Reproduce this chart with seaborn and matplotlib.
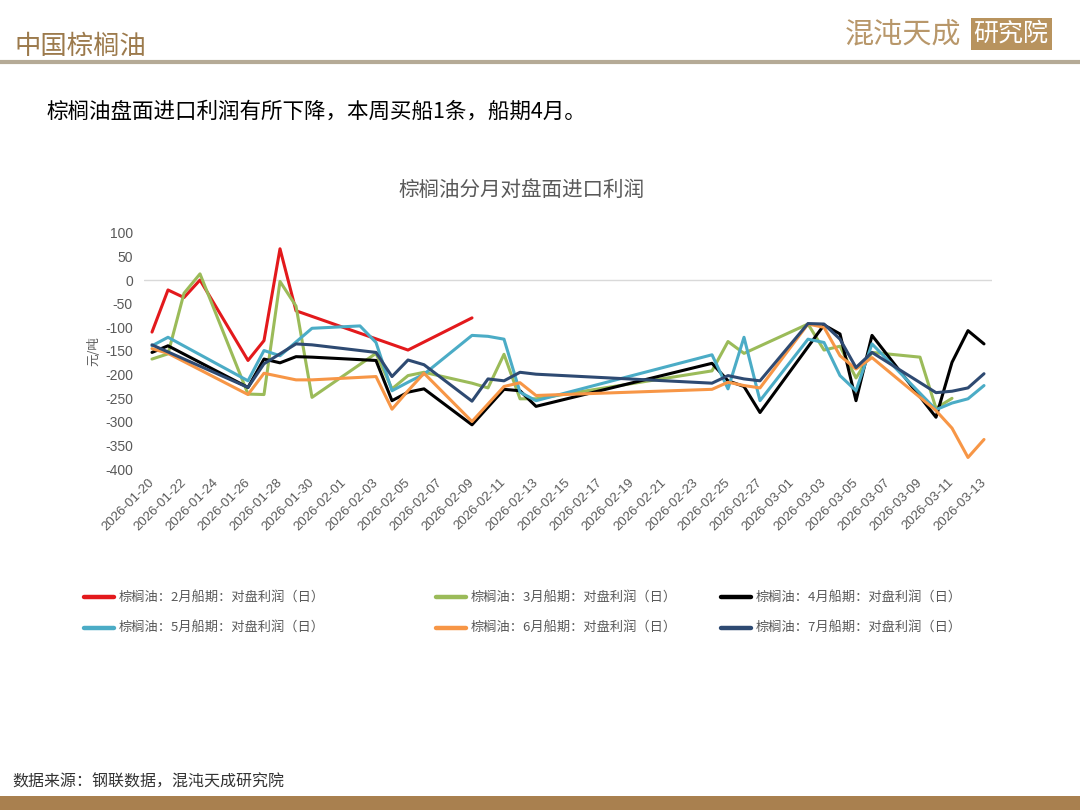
import pandas as pd
import seaborn as sns
import matplotlib.pyplot as plt
from matplotlib.lines import Line2D
from matplotlib.patches import Rectangle

# series labels and colours (2月 .. 7月 ship months)
series_names = [
    "棕榈油：2月船期：对盘利润（日）",
    "棕榈油：3月船期：对盘利润（日）",
    "棕榈油：4月船期：对盘利润（日）",
    "棕榈油：5月船期：对盘利润（日）",
    "棕榈油：6月船期：对盘利润（日）",
    "棕榈油：7月船期：对盘利润（日）",
]
series_colors = ["#E3191C", "#9BBB59", "#000000", "#4BACC6", "#F79646", "#2E4A72"]

feb_dates = ["01-20", "01-21", "01-22", "01-23", "01-26", "01-27", "01-28", "01-29", "02-05", "02-09"]
feb_values = [-110, -21, -37, 0, -170, -128, 66, -65, -148, -80]

mar_dates = ["01-20", "01-21", "01-22", "01-23", "01-26", "01-27", "01-28", "01-29", "01-30",
             "02-03", "02-04", "02-05", "02-06", "02-09", "02-10", "02-11", "02-12", "02-13",
             "02-24", "02-25", "02-26", "03-02", "03-03", "03-04", "03-05", "03-06", "03-09",
             "03-10", "03-11"]
mar_values = [-167, -156, -28, 13, -241, -242, -3, -55, -248,
              -155, -230, -202, -195, -218, -228, -157, -251, -251,
              -192, -130, -155, -93, -148, -140, -207, -153, -163,
              -271, -250]

apr_dates = ["01-20", "01-21", "01-26", "01-27", "01-28", "01-29", "01-30", "02-03", "02-04",
             "02-05", "02-06", "02-09", "02-11", "02-12", "02-13", "02-24", "02-25", "02-26",
             "02-27", "03-03", "03-04", "03-05", "03-06", "03-10", "03-11", "03-12", "03-13"]
apr_values = [-153, -139, -227, -167, -175, -162, -163, -170, -255,
              -237, -230, -306, -231, -234, -267, -176, -213, -225,
              -280, -95, -114, -255, -117, -290, -174, -107, -135]

may_dates = ["01-20", "01-21", "01-26", "01-27", "01-28", "01-30", "02-02", "02-03", "02-04",
             "02-05", "02-06", "02-09", "02-10", "02-11", "02-12", "02-13", "02-24", "02-25",
             "02-26", "02-27", "03-02", "03-03", "03-04", "03-05", "03-06", "03-10", "03-11",
             "03-12", "03-13"]
may_values = [-139, -121, -213, -149, -160, -102, -97, -132, -234,
              -216, -199, -117, -119, -125, -237, -255, -158, -230,
              -121, -255, -125, -132, -202, -234, -135, -274, -260,
              -251, -223]

jun_dates = ["01-20", "01-21", "01-26", "01-27", "01-29", "01-30", "02-03", "02-04", "02-05",
             "02-06", "02-09", "02-11", "02-12", "02-13", "02-24", "02-25", "02-26", "02-27",
             "03-02", "03-03", "03-04", "03-05", "03-06", "03-10", "03-11", "03-12", "03-13"]
jun_values = [-145, -155, -242, -197, -211, -211, -204, -273, -234,
              -197, -299, -225, -217, -244, -231, -216, -223, -228,
              -93, -100, -160, -188, -164, -276, -313, -375, -337]

jul_dates = ["01-20", "01-26", "01-27", "01-28", "01-29", "01-30", "02-03", "02-04", "02-05",
             "02-06", "02-09", "02-10", "02-11", "02-12", "02-13", "02-24", "02-25", "02-26",
             "02-27", "03-02", "03-03", "03-04", "03-05", "03-06", "03-10", "03-11", "03-12",
             "03-13"]
jul_values = [-137, -227, -177, -156, -135, -137, -153, -204, -169,
              -179, -256, -209, -213, -195, -199, -218, -202, -209,
              -213, -92, -93, -125, -185, -153, -238, -235, -228,
              -198]

y_ticks = list(range(-400, 101, 50))

all_dates = [feb_dates, mar_dates, apr_dates, may_dates, jun_dates, jul_dates]
all_values = [feb_values, mar_values, apr_values, may_values, jun_values, jul_values]

rows = []
for name, dates, values in zip(series_names, all_dates, all_values):
    for d, v in zip(dates, values):
        rows.append({"date": pd.Timestamp("2026-" + d), "value": v, "series": name})
df = pd.DataFrame(rows)

sns.set_theme(style="white")
plt.rcParams["font.family"] = ["Noto Sans CJK SC", "DejaVu Sans"]

W, H = 1080, 810
fig = plt.figure(figsize=(10.8, 8.1), dpi=100)


def fx(px):
    return px / W


def fy(py):
    return 1 - py / H


ax = fig.add_axes([fx(144), fy(469.3), fx(848), 236.6 / H])

palette = dict(zip(series_names, series_colors))
sns.lineplot(data=df, x="date", y="value", hue="series", hue_order=series_names,
             palette=palette, linewidth=2.2, legend=False, ax=ax)

ax.axhline(0, color="#D9D9D9", linewidth=1.0, zorder=0)
ax.set_xlim(pd.Timestamp("2026-01-19 12:00"), pd.Timestamp("2026-03-13 12:00"))
ax.set_ylim(-400, 100)
ax.set_yticks(y_ticks)
ax.set_yticklabels([str(v) for v in y_ticks], family="Liberation Sans", fontsize=10, color="#595959")

x_ticks = pd.date_range("2026-01-20", "2026-03-13", freq="2D")
ax.set_xticks(x_ticks)
ax.set_xticklabels([d.strftime("%Y-%m-%d") for d in x_ticks], family="Liberation Sans",
                   fontsize=9.5, color="#595959", rotation=45, ha="right", va="center",
                   rotation_mode="anchor")
ax.tick_params(axis="y", length=0, pad=8)
ax.tick_params(axis="x", length=0, pad=8)
ax.set_xlabel("")
ax.set_ylabel("元/吨", fontsize=9, color="#595959", labelpad=3)
for s in ax.spines.values():
    s.set_visible(False)
ax.set_facecolor("none")

# chart title
fig.text(fx(521), fy(190), "棕榈油分月对盘面进口利润", fontsize=14.8, color="#595959",
         ha="center", va="center")

# legends: three columns of two rows
handles = [Line2D([0], [0], color=c, lw=3.2) for c in series_colors]
col_x = [84, 436, 721]
for i, x0 in enumerate(col_x):
    leg = fig.legend([handles[i], handles[i + 3]], [series_names[i], series_names[i + 3]],
                     loc="upper left", bbox_to_anchor=(fx(x0), fy(592)), frameon=False,
                     fontsize=9.5, handlelength=2.3, handletextpad=0.3, borderpad=0,
                     borderaxespad=0, labelspacing=1.3)
    for t in leg.get_texts():
        t.set_color("#595959")

# page header
fig.text(fx(14), fy(46), "中国棕榈油", fontsize=19, color="#9C7A4C", ha="left", va="center")
fig.add_artist(Line2D([0, 1], [fy(62), fy(62)], color="#B5AA96", lw=3, transform=fig.transFigure))
fig.text(fx(845), fy(34), "混沌天成", fontsize=21, color="#B8976A", ha="left", va="center",
         fontweight="light")
fig.text(fx(1011), fy(34), "研究院", fontsize=18, color="white", ha="center", va="center",
         bbox=dict(boxstyle="square,pad=0.12", facecolor="#B8935E", edgecolor="none"))

# subtitle
fig.text(fx(47), fy(112), "棕榈油盘面进口利润有所下降，本周买船1条，船期4月。",
         fontsize=15.5, color="black", ha="left", va="center")

# footer
fig.text(fx(12), fy(782), "数据来源：钢联数据，混沌天成研究院", fontsize=11.5, color="#333333",
         ha="left", va="center", style="italic")
fig.add_artist(Rectangle((0, 0), 1, fy(796), transform=fig.transFigure,
                         facecolor="#A9804F", edgecolor="none"))

fig.savefig("out.png", dpi=100)
